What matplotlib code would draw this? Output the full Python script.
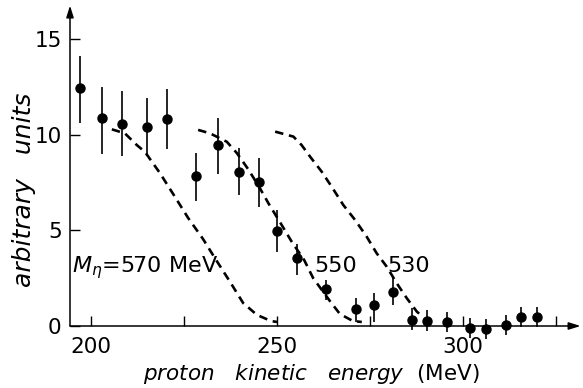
import matplotlib
matplotlib.use("Agg")
import matplotlib.pyplot as plt
from matplotlib.ticker import FixedLocator, NullFormatter

plt.rcParams['font.family'] = ['DejaVu Sans']
plt.rcParams['mathtext.fontset'] = 'dejavusans'

# measured data points (proton kinetic energy, MeV) and yields (arbitrary units)
energy = [197.0, 203.0, 208.3, 215.0, 220.4, 228.1, 234.2, 239.9, 245.2, 249.9,
          255.3, 263.1, 271.2, 276.1, 281.1, 286.2, 290.3, 295.8, 302.0, 306.2,
          311.5, 315.5, 320.0]
yield_ = [12.44, 10.87, 10.56, 10.40, 10.80, 7.86, 9.46, 8.07, 7.55, 4.97,
          3.57, 1.93, 0.89, 1.10, 1.79, 0.31, 0.28, 0.23, -0.12, -0.14,
          0.05, 0.49, 0.49]
err_top = [14.10, 12.50, 12.30, 11.90, 12.40, 9.06, 10.87, 9.29, 8.77, 6.06,
           4.31, 2.40, 1.45, 1.71, 2.54, 0.92, 0.84, 0.75, 0.40, 0.37,
           0.57, 1.00, 1.00]
err_bot = [10.60, 9.00, 8.90, 8.90, 9.25, 6.55, 7.93, 6.85, 6.24, 3.89,
           2.67, 1.36, 0.22, 0.20, 1.10, -0.21, -0.24, -0.30, -0.64, -0.70,
           -0.47, -0.07, -0.07]

# calculated spectra for different eta masses (dashed)
c570_E = [205.6, 209.1, 212.3, 214.5, 218.5, 222.6, 226.1, 230.1, 233.3, 237.4, 240.9, 244.6, 248.4, 250.0]
c570_y = [10.28, 10.07, 9.46, 9.10, 8.00, 6.74, 5.65, 4.55, 3.55, 2.30, 1.20, 0.58, 0.26, 0.21]
c550_E = [228.8, 232.0, 236.5, 239.2, 242.2, 245.2, 247.8, 251.1, 254.0, 257.3, 259.7, 264.2, 266.9, 270.4, 272.8]
c550_y = [10.25, 10.07, 9.63, 9.04, 8.21, 7.27, 6.38, 5.33, 4.39, 3.45, 2.51, 1.31, 0.63, 0.26, 0.21]
c530_E = [249.5, 254.4, 256.6, 258.9, 262.0, 264.7, 267.8, 271.0, 274.1, 276.8, 279.5, 282.2, 284.9, 287.6, 288.8]
c530_y = [10.16, 9.90, 9.46, 8.85, 8.07, 7.28, 6.33, 5.54, 4.67, 3.80, 3.10, 2.23, 1.45, 0.75, 0.55]

x_major = [200, 250, 300]
x_minor = [225, 275, 325]
y_ticks = [0, 5, 10, 15]

W, H = 583, 388
fig = plt.figure(figsize=(W / 100, H / 100), dpi=100)
ax = fig.add_axes([70 / W, 62 / H, (W - 70) / W, 326 / H])
ax.set_xlim(194.35, 332.26)
ax.set_ylim(0, 17.04)
for s in ax.spines.values():
    s.set_visible(False)

lo = [y - b for y, b in zip(yield_, err_bot)]
hi = [t - y for y, t in zip(yield_, err_top)]
ax.errorbar(energy, yield_, yerr=[lo, hi], fmt='o', color='black', ms=6.5,
            elinewidth=1.2, capsize=0, clip_on=False, zorder=3)

for xs, ys in [(c570_E, c570_y), (c550_E, c550_y), (c530_E, c530_y)]:
    ax.plot(xs, ys, color='black', lw=1.9, dashes=(3.2, 2.2), clip_on=False)

# axes with arrows
ax.annotate('', xy=(331.6, 0), xytext=(194.35, 0), xycoords='data',
            arrowprops=dict(arrowstyle='-|>,head_length=0.7,head_width=0.22',
                            color='black', lw=1.1, shrinkA=0, shrinkB=0))
ax.annotate('', xy=(194.35, 16.75), xytext=(194.35, 0), xycoords='data',
            arrowprops=dict(arrowstyle='-|>,head_length=0.7,head_width=0.22',
                            color='black', lw=1.1, shrinkA=0, shrinkB=0))

ax.xaxis.set_major_locator(FixedLocator(x_major))
ax.xaxis.set_minor_locator(FixedLocator(x_minor))
ax.xaxis.set_minor_formatter(NullFormatter())
ax.set_yticks(y_ticks)
ax.tick_params(axis='both', which='both', direction='in', length=7, width=1.0,
               labelsize=15.5)
ax.tick_params(axis='x', pad=8)
ax.tick_params(axis='y', pad=6)

ax.text(194.9, 2.8, r'$M_{\eta}$=570 MeV', fontsize=16, va='baseline', ha='left')
ax.text(265.9, 2.8, '550', fontsize=16, va='baseline', ha='center')
ax.text(285.5, 2.8, '530', fontsize=16, va='baseline', ha='center')

fig.text(311 / W, 1 - 374 / H,
         r'$\mathit{proton\ \ \ kinetic\ \ \ energy}$  (MeV)',
         fontsize=15.5, ha='center', va='center')
fig.text(24 / W, 1 - 190 / H, 'arbitrary   units', rotation=90, style='italic',
         fontsize=18, ha='center', va='center')

fig.savefig('out.png', dpi=100)
